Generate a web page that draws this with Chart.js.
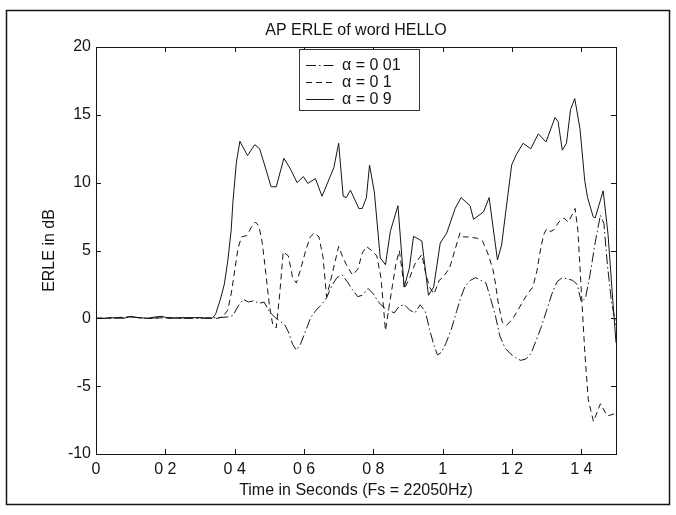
<!DOCTYPE html>
<html>
<head>
<meta charset="utf-8">
<script src="https://cdn.jsdelivr.net/npm/chart.js@4.4.1/dist/chart.umd.min.js"></script>
<style>
  html, body { margin: 0; padding: 0; background: #fff; }
  #wrap { width: 676px; height: 515px; }
</style>
</head>
<body>
<div id="wrap"><canvas id="c" width="676" height="515"></canvas></div>
<script>
// ---- texts ----
const chartTitle = 'AP ERLE of word HELLO';
const xAxisTitle = 'Time in Seconds (Fs = 22050Hz)';
const yAxisTitle = 'ERLE in dB';
const seriesLabels = ['\u03b1 = 0 01', '\u03b1 = 0 1', '\u03b1 = 0 9'];

// ---- axes ----
const xTickValues = [0, 0.2, 0.4, 0.6, 0.8, 1, 1.2, 1.4];
const xTickLabels = ['0', '0 2', '0 4', '0 6', '0 8', '1', '1 2', '1 4'];
const yTickValues = [-10, -5, 0, 5, 10, 15, 20];
const yTickLabels = ['-10', '-5', '0', '5', '10', '15', '20'];

// ---- alpha = 0.01 ----
const timeA001 = [0, 0.05, 0.1, 0.15, 0.2, 0.25, 0.3, 0.35, 0.38, 0.395, 0.41, 0.425, 0.44, 0.455, 0.47, 0.485,
  0.5, 0.515, 0.53, 0.545, 0.555, 0.567, 0.578, 0.59, 0.605, 0.62, 0.635, 0.65, 0.665, 0.68, 0.695, 0.71,
  0.725, 0.74, 0.755, 0.768, 0.785, 0.8, 0.815, 0.83, 0.845, 0.86, 0.875, 0.89, 0.905, 0.92, 0.935, 0.95,
  0.962, 0.975, 0.985, 0.997, 1.01, 1.025, 1.04, 1.052, 1.065, 1.08, 1.095, 1.11, 1.125, 1.14, 1.152,
  1.165, 1.18, 1.195, 1.21, 1.225, 1.24, 1.255, 1.27, 1.285, 1.3, 1.315, 1.33, 1.345, 1.36, 1.375, 1.388,
  1.4, 1.412, 1.425, 1.44, 1.455, 1.465, 1.475, 1.487, 1.5];
const erleA001 = [0, 0, 0.1, 0, 0.05, 0, 0, 0.05, 0.1, 0.2, 0.9, 1.4, 1.2, 1.3, 1.1, 1.2,
  0.5, 0.1, -0.2, -0.5, -1.0, -1.9, -2.35, -1.9, -0.9, 0.1, 0.6, 1.0, 1.5, 2.4, 3.0, 3.2,
  2.7, 2.1, 1.6, 1.7, 2.2, 1.8, 1.2, 0.8, 0.6, 0.4, 0.9, 1.0, 0.6, 0.4, 1.0, 0.5,
  -0.8, -2.0, -2.7, -2.5, -1.8, -0.8, 0.5, 1.5, 2.4, 2.8, 3.0, 2.8, 2.6, 1.3, 0.2,
  -1.3, -2.2, -2.6, -2.9, -3.1, -3.0, -2.6, -1.6, -0.6, 0.6, 1.8, 2.7, 3.0, 2.9, 2.8, 2.5,
  1.2, 1.5, 3.2, 5.6, 7.6, 7.0, 4.0, 1.2, -0.5];

// ---- alpha = 0.1 ----
const timeA01 = [0, 0.05, 0.1, 0.15, 0.2, 0.25, 0.3, 0.35, 0.365, 0.38, 0.39, 0.4, 0.41, 0.42, 0.435, 0.45,
  0.46, 0.47, 0.48, 0.49, 0.5, 0.51, 0.52, 0.53, 0.54, 0.555, 0.567, 0.578, 0.59, 0.605, 0.618, 0.63,
  0.643, 0.655, 0.665, 0.675, 0.688, 0.7, 0.712, 0.725, 0.74, 0.755, 0.768, 0.78, 0.795, 0.81, 0.822,
  0.835, 0.845, 0.855, 0.865, 0.875, 0.89, 0.905, 0.92, 0.94, 0.952, 0.962, 0.975, 0.99, 1.0, 1.02,
  1.035, 1.05, 1.06, 1.075, 1.1, 1.115, 1.13, 1.145, 1.152, 1.16, 1.172, 1.185, 1.2, 1.215, 1.23,
  1.245, 1.26, 1.272, 1.283, 1.292, 1.3, 1.31, 1.32, 1.335, 1.35, 1.362, 1.375, 1.382, 1.39, 1.4,
  1.41, 1.42, 1.435, 1.455, 1.475, 1.5];
const erleA01 = [0, 0.05, 0.1, 0, 0.05, 0, 0.05, 0, 0.1, 0.6, 1.8, 3.5, 5.2, 6.0, 6.1, 6.8,
  7.1, 6.8, 5.5, 3.3, 1.0, -0.5, -0.7, 1.8, 4.9, 4.6, 3.0, 2.6, 3.6, 5.0, 6.0, 6.3,
  6.0, 4.5, 1.6, 2.6, 4.0, 5.3, 4.5, 3.8, 3.2, 3.6, 4.8, 5.3, 5.0, 4.6, 3.0,
  -0.9, 0.8, 2.4, 4.0, 5.0, 2.2, 3.0, 4.0, 4.7, 3.2, 2.3, 1.8, 2.8, 3.0, 3.7,
  5.0, 6.3, 6.0, 6.0, 5.9, 5.7, 4.8, 3.6, 2.6, 1.2, -0.3, -0.5, -0.1, 0.5, 1.2,
  1.8, 2.3, 3.5, 5.2, 6.2, 6.6, 6.4, 6.5, 7.1, 7.4, 7.1, 7.7, 8.1, 6.5, 2.0,
  -2.5, -6.0, -7.6, -6.3, -7.2, -7.0];

// ---- alpha = 0.9 ----
const timeA09 = [0, 0.03, 0.05, 0.08, 0.1, 0.12, 0.15, 0.17, 0.19, 0.21, 0.24, 0.27, 0.3, 0.32, 0.335,
  0.345, 0.36, 0.37, 0.38, 0.39, 0.395, 0.405, 0.415, 0.437, 0.458, 0.472, 0.49, 0.505, 0.52, 0.542,
  0.561, 0.58, 0.598, 0.611, 0.633, 0.652, 0.686, 0.7, 0.713, 0.722, 0.734, 0.758, 0.768, 0.78, 0.789,
  0.803, 0.82, 0.835, 0.849, 0.871, 0.889, 0.904, 0.916, 0.94, 0.959, 0.974, 0.993, 1.012, 1.036,
  1.053, 1.079, 1.089, 1.118, 1.134, 1.158, 1.17, 1.199, 1.213, 1.232, 1.254, 1.276, 1.298, 1.324,
  1.333, 1.345, 1.357, 1.369, 1.381, 1.396, 1.41, 1.418, 1.434, 1.44, 1.463, 1.477, 1.491, 1.5];
const erleA09 = [0, 0, 0.05, 0, 0.15, 0.05, 0, 0.1, 0.15, 0, 0.05, 0.05, 0.05, 0, 0,
  0.3, 1.5, 2.5, 4.2, 6.5, 8.6, 11.5, 13.05, 12.0, 12.8, 12.5, 11.0, 9.7, 9.7, 11.8,
  11.0, 10.0, 10.45, 9.95, 10.3, 9.0, 11.1, 12.9, 9.0, 8.9, 9.45, 8.1, 8.1, 8.9, 11.3,
  9.3, 4.45, 3.95, 6.4, 8.3, 2.3, 3.7, 6.05, 5.7, 1.7, 2.3, 5.55, 6.3, 8.1,
  8.9, 8.3, 7.3, 7.85, 8.9, 4.3, 5.4, 11.3, 12.1, 12.9, 12.5, 13.6, 13.0, 14.8,
  14.5, 12.4, 12.9, 15.4, 16.2, 14.0, 10.1, 8.9, 7.5, 7.4, 9.4, 6.2, 1.25, -1.8];

const zip = (t, v) => t.map((x, i) => ({ x, y: v[i] }));

const FONT = '"Liberation Sans", Arial, Helvetica, sans-serif';
const FONT_SIZE = 16;
const INK = '#151515';

// MATLAB-style boxed axes, inward ticks, texts and an inset legend
const figureDecor = {
  id: 'figureDecor',
  afterDraw(chart) {
    const { ctx, chartArea: a, scales: { x, y } } = chart;
    ctx.save();

    // figure border
    ctx.strokeStyle = INK;
    ctx.lineWidth = 1.5;
    ctx.strokeRect(6.5, 10.5, 663, 494);

    // axes box
    ctx.lineWidth = 1;
    ctx.strokeRect(a.left + 0.5, a.top + 0.5, a.right - a.left, a.bottom - a.top);

    // inward tick marks on all four sides
    const tl = 5;
    ctx.beginPath();
    xTickValues.forEach(v => {
      const px = Math.round(x.getPixelForValue(v)) + 0.5;
      ctx.moveTo(px, a.bottom); ctx.lineTo(px, a.bottom - tl);
      ctx.moveTo(px, a.top); ctx.lineTo(px, a.top + tl);
    });
    yTickValues.forEach(v => {
      const py = Math.round(y.getPixelForValue(v)) + 0.5;
      ctx.moveTo(a.left, py); ctx.lineTo(a.left + tl, py);
      ctx.moveTo(a.right, py); ctx.lineTo(a.right - tl, py);
    });
    ctx.stroke();

    // title and axis titles
    ctx.fillStyle = INK;
    ctx.font = FONT_SIZE + 'px ' + FONT;
    ctx.textAlign = 'center';
    ctx.textBaseline = 'middle';
    const cx = (a.left + a.right) / 2;
    ctx.fillText(chartTitle, cx, 31);
    ctx.fillText(xAxisTitle, cx, 491);
    ctx.save();
    ctx.translate(50, (a.top + a.bottom) / 2);
    ctx.rotate(-Math.PI / 2);
    ctx.fillText(yAxisTitle, 0, 0);
    ctx.restore();

    // legend
    const lx = 299, ly = 49, lw = 120, lh = 61;
    ctx.fillStyle = '#fff';
    ctx.fillRect(lx, ly, lw, lh);
    ctx.strokeStyle = '#333';
    ctx.lineWidth = 1;
    ctx.strokeRect(lx + 0.5, ly + 0.5, lw, lh);
    chart.data.datasets.forEach((ds, i) => {
      const yy = Math.round(ly + 16 + i * 17) + 0.5;
      ctx.strokeStyle = ds.borderColor;
      ctx.lineWidth = ds.borderWidth;
      ctx.setLineDash(ds.borderDash || []);
      ctx.beginPath();
      ctx.moveTo(lx + 7, yy);
      ctx.lineTo(lx + 35, yy);
      ctx.stroke();
      ctx.setLineDash([]);
      ctx.fillStyle = INK;
      ctx.textAlign = 'left';
      ctx.fillText(ds.label, lx + 43, yy);
    });

    ctx.restore();
  }
};

const lineStyle = (label, t, v, dash) => ({
  label,
  data: zip(t, v),
  borderColor: INK,
  borderWidth: 1,
  borderDash: dash,
  pointRadius: 0,
  tension: 0,
  fill: false
});

new Chart(document.getElementById('c'), {
  type: 'line',
  data: {
    datasets: [
      lineStyle(seriesLabels[0], timeA001, erleA001, [10, 3, 1.5, 3]),
      lineStyle(seriesLabels[1], timeA01, erleA01, [6, 4]),
      lineStyle(seriesLabels[2], timeA09, erleA09, [])
    ]
  },
  options: {
    responsive: false,
    animation: false,
    devicePixelRatio: 1,
    layout: { padding: { top: 47, right: 60, left: 0, bottom: 0 } },
    plugins: { legend: { display: false }, title: { display: false }, tooltip: { enabled: false } },
    scales: {
      x: {
        type: 'linear',
        min: 0,
        max: 1.5,
        afterBuildTicks: s => { s.ticks = xTickValues.map(v => ({ value: v })); },
        afterFit: s => { s.height = 61; },
        grid: { display: false, drawTicks: false },
        border: { display: false },
        ticks: {
          autoSkip: false, maxRotation: 0, minRotation: 0, padding: 6,
          color: INK, font: { family: FONT, size: FONT_SIZE },
          callback: (v, i) => xTickLabels[i]
        }
      },
      y: {
        type: 'linear',
        min: -10,
        max: 20,
        afterBuildTicks: s => { s.ticks = yTickValues.map(v => ({ value: v })); },
        afterFit: s => { s.width = 96; },
        grid: { display: false, drawTicks: false },
        border: { display: false },
        ticks: {
          autoSkip: false, padding: 5,
          color: INK, font: { family: FONT, size: FONT_SIZE },
          callback: (v, i) => yTickLabels[i]
        }
      }
    }
  },
  plugins: [figureDecor]
});
</script>
</body>
</html>
